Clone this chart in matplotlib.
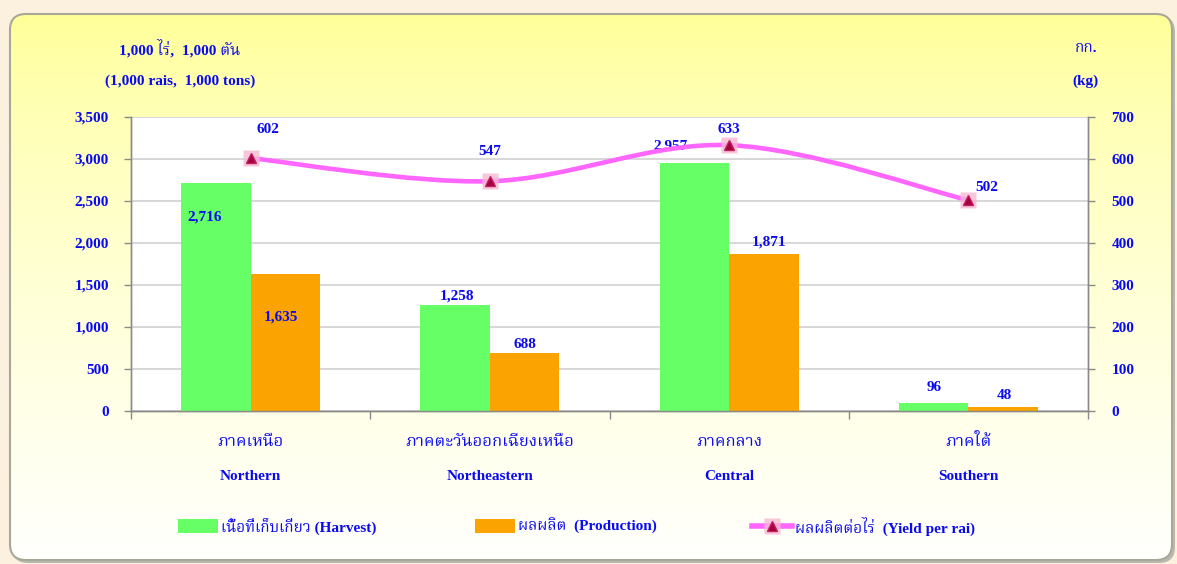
import numpy as np
import matplotlib
matplotlib.use('Agg')
from matplotlib import pyplot as plt, patches, font_manager
from matplotlib.path import Path
from matplotlib.ft2font import FT2Font

regions_th = ['ภาคเหนือ', 'ภาคตะวันออกเฉียงเหนือ', 'ภาคกลาง', 'ภาคใต้']
regions_en = ['Northern', 'Northeastern', 'Central', 'Southern']
harvest = [2716, 1258, 2957, 96]
production = [1635, 688, 1871, 48]
yield_rai = [602, 547, 633, 502]
left_ticks = [0, 500, 1000, 1500, 2000, 2500, 3000, 3500]
right_ticks = [0, 100, 200, 300, 400, 500, 600, 700]

legend_labels = ['เนื้อที่เก็บเกี่ยว (Harvest)', 'ผลผลิต  (Production)',
                 'ผลผลิตต่อไร่  (Yield per rai)']

W, H = 1177, 564
BLUE = '#0A0AF0'
GREEN = '#66FF66'
ORANGE = '#FBA300'
PINK = '#FF66FF'
GRID = '#D4D4D4'
AXC = '#8A8A8A'


def find_thai_font():
    names = []
    for f in font_manager.fontManager.ttflist:
        try:
            if 0x0E01 in FT2Font(f.fname).get_charmap():
                names.append(f.name)
        except Exception:
            pass
    for pref in ['Norasi', 'TH Sarabun New', 'Noto Serif Thai', 'Garuda',
                 'Loma', 'Noto Sans Thai', 'Noto Sans Thai Looped']:
        if pref in names:
            return pref
    return names[0] if names else None


thai = find_thai_font()
fam = ['Liberation Serif'] + ([thai] if thai else []) + ['DejaVu Sans']
plt.rcParams['font.family'] = fam
plt.rcParams['font.weight'] = 'bold'


def px(x, y):
    return x / W, 1 - y / H


def smooth_path(xs, ys):
    # Catmull-Rom style bezier through the points (like a smoothed line)
    pts = np.column_stack([xs, ys]).astype(float)
    ext = np.vstack([pts[0], pts, pts[-1]])
    verts = [pts[0]]
    codes = [Path.MOVETO]
    for i in range(len(pts) - 1):
        p0, p1, p2, p3 = ext[i], ext[i + 1], ext[i + 2], ext[i + 3]
        verts += [p1 + (p2 - p0) / 6, p2 - (p3 - p1) / 6, p2]
        codes += [Path.CURVE4] * 3
    return Path(verts, codes)


fig = plt.figure(figsize=(W / 100, H / 100), dpi=100, facecolor='#FCF1DE')

# yellow rounded panel
bg = fig.add_axes([0, 0, 1, 1], zorder=-10)
bg.set_xlim(0, W)
bg.set_ylim(H, 0)
bg.axis('off')
shadow = patches.FancyBboxPatch((12, 16), 1163, 547,
                                boxstyle='round,pad=0,rounding_size=16',
                                facecolor='#B8B8B0', edgecolor='none')
bg.add_patch(shadow)
panel = patches.FancyBboxPatch((10, 14), 1162, 546,
                               boxstyle='round,pad=0,rounding_size=16',
                               facecolor='none', edgecolor='#A8A898', linewidth=1.5)
bg.add_patch(panel)
t = np.linspace(0, 1, 256) ** 0.7
grad = np.zeros((256, 1, 3))
grad[:, 0, 0] = 1.0
grad[:, 0, 1] = 1.0
grad[:, 0, 2] = (150 + 103 * t) / 255
img = bg.imshow(grad, extent=(10, 1172, 560, 14), aspect='auto', zorder=1)
img.set_clip_path(panel)
panel.set_zorder(2)

# main axes
ax = fig.add_axes([131 / W, 153 / H, 957 / W, 294 / H])
ax.set_facecolor('white')
ax2 = ax.twinx()

x = np.arange(len(regions_en))
bw = 0.29
b1 = ax.bar(x - bw / 2, harvest, bw, color=GREEN, zorder=3)
b2 = ax.bar(x + bw / 2, production, bw, color=ORANGE, zorder=3)

ax.set_xlim(-0.5, len(regions_en) - 0.5)
ax.set_ylim(0, 3500)
ax.set_yticks(left_ticks)
ax.set_yticklabels([f'{v:,}' for v in left_ticks])
ax.yaxis.grid(True, color=GRID, linewidth=1.3)
ax.set_axisbelow(True)
ax.set_xticks(np.arange(-0.5, len(regions_en), 1.0))
ax.set_xticklabels([])
ax.tick_params(axis='x', direction='out', length=6, color=AXC, width=1)
ax.tick_params(axis='y', direction='out', length=5, color=AXC, width=1,
               labelsize=11, labelcolor=BLUE, pad=11)

ax2.set_ylim(0, 700)
ax2.set_yticks(right_ticks)
ax2.tick_params(axis='y', direction='out', length=5, color=AXC, width=1,
                labelsize=11, labelcolor=BLUE, pad=12)

for a in (ax, ax2):
    for s in ['left', 'right', 'bottom']:
        a.spines[s].set_color(AXC)
        a.spines[s].set_linewidth(1)
    a.spines['top'].set_visible(False)

# smoothed yield line
line_path = smooth_path(x, yield_rai)
ax2.add_patch(patches.PathPatch(line_path, facecolor='none', edgecolor=PINK,
                                linewidth=3.3, capstyle='round', zorder=4))
halo, = ax2.plot(x, yield_rai, ls='none', marker='s', markersize=11,
                 markerfacecolor='#F7B8D2', markeredgecolor='none', alpha=0.8, zorder=5)
tri, = ax2.plot(x, yield_rai, ls='none', marker='^', markersize=7.5,
                markerfacecolor='#A2003E', markeredgecolor='#C02060', zorder=6)

# data labels (offsets in pixels: dx right, dy down)
harvest_off = [(-11, 34), (2, -9), (-24, -17), (1, -15)]
prod_off = [(-4, 43), (0, -9), (5, -12), (1, -11)]
yield_off = [(17, -29), (0, -30), (0, -16), (18, -13)]

lab = dict(textcoords='offset pixels', ha='center', va='center',
           color=BLUE, fontsize=11, fontweight='bold', zorder=10)
for i in range(len(x)):
    ax.annotate(f'{harvest[i]:,}', (x[i] - bw / 2, harvest[i]),
                xytext=(harvest_off[i][0], -harvest_off[i][1]), **lab)
    ax.annotate(f'{production[i]:,}', (x[i] + bw / 2, production[i]),
                xytext=(prod_off[i][0], -prod_off[i][1]), **lab)
    ax2.annotate(f'{yield_rai[i]:,}', (x[i], yield_rai[i]),
                 xytext=(yield_off[i][0], -yield_off[i][1]), **lab)

# category labels
tr = ax.get_xaxis_transform()
for i in range(len(x)):
    ax.text(x[i], -31 / 294, regions_th[i], transform=tr, ha='center', va='center',
            color=BLUE, fontsize=12, fontweight='bold')
    ax.text(x[i], -66 / 294, regions_en[i], transform=tr, ha='center', va='center',
            color=BLUE, fontsize=11, fontweight='bold')

# unit labels
fig.text(*px(180, 48), '1,000 ไร่,  1,000 ตัน', ha='center', va='center',
         color=BLUE, fontsize=11, fontweight='bold')
fig.text(*px(180, 81), '(1,000 rais,  1,000 tons)', ha='center', va='center',
         color=BLUE, fontsize=11, fontweight='bold')
fig.text(*px(1086, 49), 'กก.', ha='center', va='center',
         color=BLUE, fontsize=11, fontweight='bold')
fig.text(*px(1085, 81), '(kg)', ha='center', va='center',
         color=BLUE, fontsize=11, fontweight='bold')

# legend, one entry each
handles = [b1, b2, (halo, tri)]
leg_x = [178, 475, 752]
line_handle = plt.Line2D([], [], color=PINK, linewidth=4)
handles[2] = (line_handle, halo, tri)
for h, l, lx in zip(handles, legend_labels, leg_x):
    fig.legend([h], [l], loc='center left', bbox_to_anchor=px(lx, 526),
               frameon=False, handlelength=2.6, handleheight=1.05,
               handletextpad=0.2, borderpad=0, borderaxespad=0,
               prop={'family': fam, 'weight': 'bold', 'size': 11},
               labelcolor=BLUE)

plt.savefig('out.png', dpi=100, facecolor=fig.get_facecolor())
